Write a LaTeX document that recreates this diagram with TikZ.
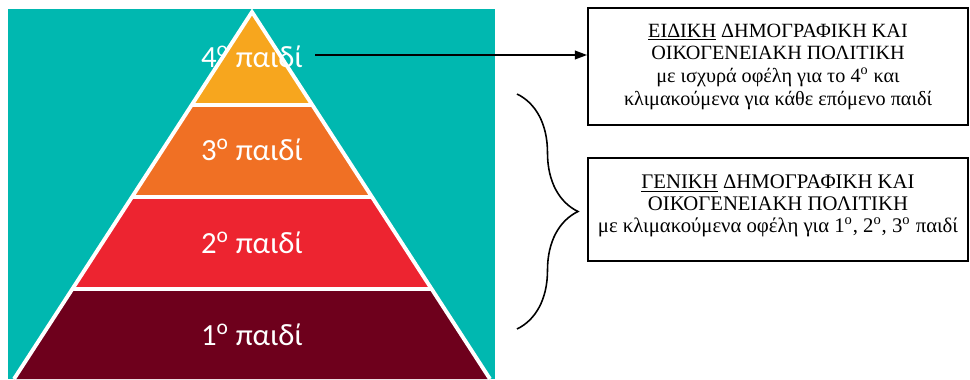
\documentclass[tikz,border=0pt]{standalone}
\usepackage{fontspec}
\setmainfont{Liberation Serif}
\newfontfamily\tierfont{Carlito}
\usetikzlibrary{arrows.meta,decorations.pathreplacing}

\definecolor{pyrteal}{RGB}{0,184,176}
\definecolor{tierfour}{RGB}{247,166,30}
\definecolor{tierthree}{RGB}{240,112,36}
\definecolor{tiertwo}{RGB}{237,36,48}
\definecolor{tierone}{RGB}{110,0,28}

\begin{document}
\begin{tikzpicture}[
        x=0.02cm, y=-0.02cm,
        tier_label/.style={text=white, font=\tierfont\fontsize{17.5}{20}\selectfont},
        white_line/.style={white, line width=2.2pt},
        policy_box/.style={draw, line width=1.1pt, minimum width=7.6cm, align=center, inner sep=0pt}
    ]
        \useasboundingbox (0,0) rectangle (970,379);

        % Background panel
        \fill[pyrteal] (8,9) rectangle (495,379);

        % Pyramid corners and tier borders
        \coordinate (apex) at (252,12);
        \coordinate (base_left) at (14,379);
        \coordinate (base_right) at (490,379);
        \coordinate (l4) at (191.7,105);
        \coordinate (r4) at (312.3,105);
        \coordinate (l3) at (132,197);
        \coordinate (r3) at (372,197);
        \coordinate (l2) at (72.4,289);
        \coordinate (r2) at (431.6,289);

        % Tiers
        \fill[tierfour] (apex) -- (r4) -- (l4) -- cycle;
        \fill[tierthree] (l4) -- (r4) -- (r3) -- (l3) -- cycle;
        \fill[tiertwo] (l3) -- (r3) -- (r2) -- (l2) -- cycle;
        \fill[tierone] (l2) -- (r2) -- (base_right) -- (base_left) -- cycle;

        % White outline and separators
        \draw[white_line] (base_left) -- (apex) -- (base_right);
        \draw[white_line] (l4) -- (r4);
        \draw[white_line] (l3) -- (r3);
        \draw[white_line] (l2) -- (r2);

        % Tier labels
        \node[tier_label] (child4) at (252,57) {4\textsuperscript{o} παιδί};
        \node[tier_label] (child3) at (252,150) {3\textsuperscript{o} παιδί};
        \node[tier_label] (child2) at (252,243) {2\textsuperscript{o} παιδί};
        \node[tier_label] (child1) at (252,335) {1\textsuperscript{o} παιδί};

        % Policy boxes
        \node[policy_box, font=\fontsize{11.5}{12.9}\selectfont, minimum height=2.34cm] (special_box) at (778,66.5)
            {\underline{ΕΙΔΙΚΗ} ΔΗΜΟΓΡΑΦΙΚΗ ΚΑΙ\\ ΟΙΚΟΓΕΝΕΙΑΚΗ ΠΟΛΙΤΙΚΗ\\ με ισχυρά οφέλη για το 4\textsuperscript{ο} και\\ κλιμακούμενα για κάθε επόμενο παιδί};
        \node[policy_box, font=\fontsize{11.8}{12.3}\selectfont, minimum height=2.06cm] (general_box) at (778,209.5)
            {\underline{ΓΕΝΙΚΗ} ΔΗΜΟΓΡΑΦΙΚΗ ΚΑΙ\\ ΟΙΚΟΓΕΝΕΙΑΚΗ ΠΟΛΙΤΙΚΗ\\ με κλιμακούμενα οφέλη για 1\textsuperscript{ο}, 2\textsuperscript{ο}, 3\textsuperscript{ο} παιδί\\[-5.6pt] \mbox{}};

        % Arrow from top tier to special policy
        \coordinate (arrow_start) at (315,55);
        \draw[-{Triangle[length=7pt,width=5pt]}, line width=0.9pt] (arrow_start) -- (arrow_start -| special_box.west);

        % Brace grouping the lower tiers
        \coordinate (brace_top) at (517,94);
        \coordinate (brace_bottom) at (517,329);
        \draw[decorate, decoration={brace, amplitude=1.22cm}, line width=0.9pt] (brace_top) -- (brace_bottom);

    \end{tikzpicture}
\end{document}
